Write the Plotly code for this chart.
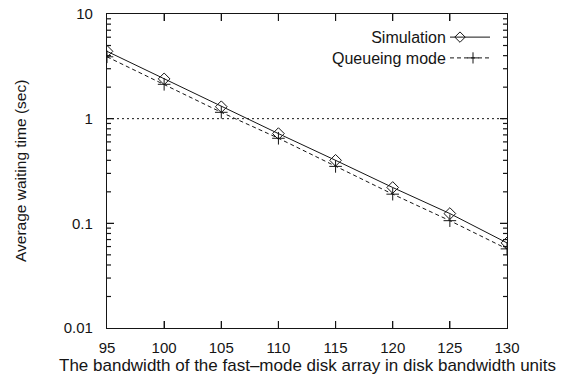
import math
import plotly.graph_objects as go

bandwidth = [95, 100, 105, 110, 115, 120, 125, 130]
simulation = [4.4, 2.4, 1.3, 0.72, 0.40, 0.22, 0.124, 0.065]
queueing = [3.9, 2.13, 1.15, 0.65, 0.35, 0.19, 0.106, 0.057]
x_ticks = [95, 100, 105, 110, 115, 120, 125, 130]
y_ticks = [0.01, 0.1, 1, 10]
y_tick_labels = ["0.01", "0.1", "1", "10"]
y_minor_ticks = [0.02, 0.03, 0.04, 0.05, 0.06, 0.07, 0.08, 0.09,
                 0.2, 0.3, 0.4, 0.5, 0.6, 0.7, 0.8, 0.9,
                 2, 3, 4, 5, 6, 7, 8, 9]
ref_level = 1
legend_names = ["Simulation", "Queueing mode"]
x_title = "The bandwidth of the fast\u2013mode disk array in disk bandwidth units"
y_title = "Average waiting time (sec)"

FONT = "Liberation Sans, Arial, Helvetica, sans-serif"
INK = "#151515"
X_RANGE = [95, 130]
Y_LOG_RANGE = [-2, 1]
PLOT_W, PLOT_H = 400, 314


def frac_x(v):
    return (v - X_RANGE[0]) / (X_RANGE[1] - X_RANGE[0])


def frac_y(v):
    return (math.log10(v) - Y_LOG_RANGE[0]) / (Y_LOG_RANGE[1] - Y_LOG_RANGE[0])


def data_x(f):
    return X_RANGE[0] + (X_RANGE[1] - X_RANGE[0]) * f


def data_y(f):
    return 10 ** (Y_LOG_RANGE[0] + (Y_LOG_RANGE[1] - Y_LOG_RANGE[0]) * f)


fig = go.Figure()

fig.add_trace(go.Scatter(
    x=[bandwidth[0], bandwidth[-1]], y=[ref_level, ref_level], mode="lines",
    line=dict(color=INK, width=1, dash="2px,3px"), showlegend=False, hoverinfo="skip"))

fig.add_trace(go.Scatter(
    x=bandwidth, y=simulation, mode="lines+markers", name=legend_names[0],
    line=dict(color=INK, width=1),
    marker=dict(symbol="diamond-open", size=9, color=INK, line=dict(width=1)),
    showlegend=False))

fig.add_trace(go.Scatter(
    x=bandwidth, y=queueing, mode="lines+markers", name=legend_names[1],
    line=dict(color=INK, width=1, dash="4px,3px"),
    marker=dict(symbol="cross-thin-open", size=9, color=INK, line=dict(width=1, color=INK)),
    showlegend=False))

# hand-made legend (text left, sample right, as in the original)
leg_y = [0.9264, 0.8602]
leg_dash = ["solid", "4px,3px"]
leg_sym = ["diamond-open", "cross-thin-open"]
leg_mx = [0.8825, 0.915]
for yy, dash, sym, mx in zip(leg_y, leg_dash, leg_sym, leg_mx):
    fig.add_shape(type="line", xref="paper", yref="paper", x0=0.8575, x1=0.9575, y0=yy, y1=yy,
                  line=dict(color=INK, width=1, dash=dash))
    fig.add_trace(go.Scatter(
        x=[data_x(mx)], y=[data_y(yy)], mode="markers",
        marker=dict(symbol=sym, size=8, color=INK, line=dict(width=1, color=INK)),
        showlegend=False, hoverinfo="skip"))
fig.add_annotation(x=0.8525, y=(leg_y[0] + leg_y[1]) / 2, xref="paper", yref="paper",
                   text="<br>".join(legend_names), align="right",
                   showarrow=False, xanchor="right", yanchor="middle",
                   font=dict(family=FONT, size=16, color=INK))

# tick marks on all four sides (inside)
for v in x_ticks[1:-1]:
    f = frac_x(v)
    fig.add_shape(type="line", xref="paper", yref="paper", x0=f, x1=f, y0=0, y1=7 / PLOT_H,
                  line=dict(color=INK, width=1.2))
    fig.add_shape(type="line", xref="paper", yref="paper", x0=f, x1=f, y0=1 - 7 / PLOT_H, y1=1,
                  line=dict(color=INK, width=1.2))
for vals, ln in ((y_ticks[1:-1], 7), (y_minor_ticks, 4)):
    for v in vals:
        f = frac_y(v)
        fig.add_shape(type="line", xref="paper", yref="paper", x0=0, x1=ln / PLOT_W, y0=f, y1=f,
                      line=dict(color=INK, width=1.2))
        fig.add_shape(type="line", xref="paper", yref="paper", x0=1 - ln / PLOT_W, x1=1, y0=f, y1=f,
                      line=dict(color=INK, width=1.2))

fig.add_annotation(x=0.5, y=-0.118, xref="paper", yref="paper", text=x_title,
                   showarrow=False, xanchor="center", yanchor="middle",
                   font=dict(family=FONT, size=17, color=INK))
fig.add_annotation(x=-0.2175, y=0.5, xref="paper", yref="paper", text=y_title,
                   showarrow=False, xanchor="center", yanchor="middle", textangle=-90,
                   font=dict(family=FONT, size=15.5, color=INK))

fig.update_layout(
    width=569, height=380,
    margin=dict(l=107, r=62, t=14, b=52),
    paper_bgcolor="white", plot_bgcolor="white",
    font=dict(family=FONT, size=15, color=INK),
    xaxis=dict(range=X_RANGE, tickvals=x_ticks, ticks="inside", ticklen=7, tickwidth=1.2,
               tickcolor=INK, showline=True, linecolor=INK, linewidth=1.3, mirror="ticks",
               showgrid=False, zeroline=False, automargin=False,
               ticklabelstandoff=6, tickfont=dict(size=15)),
    yaxis=dict(type="log", range=Y_LOG_RANGE, tickvals=y_ticks, ticktext=y_tick_labels,
               ticks="inside", ticklen=7, tickwidth=1.2, tickcolor=INK, showline=True,
               linecolor=INK, linewidth=1.3,
               mirror="ticks", showgrid=False, zeroline=False, automargin=False,
               ticklabelstandoff=10, tickfont=dict(size=15)),
)

fig.write_html("out.html", config={"displayModeBar": False})
with open("out.html", "r", encoding="utf-8") as f:
    html = f.read()
html = html.replace("<body>", '<body style="margin:0;padding:0;">', 1)
with open("out.html", "w", encoding="utf-8") as f:
    f.write(html)
